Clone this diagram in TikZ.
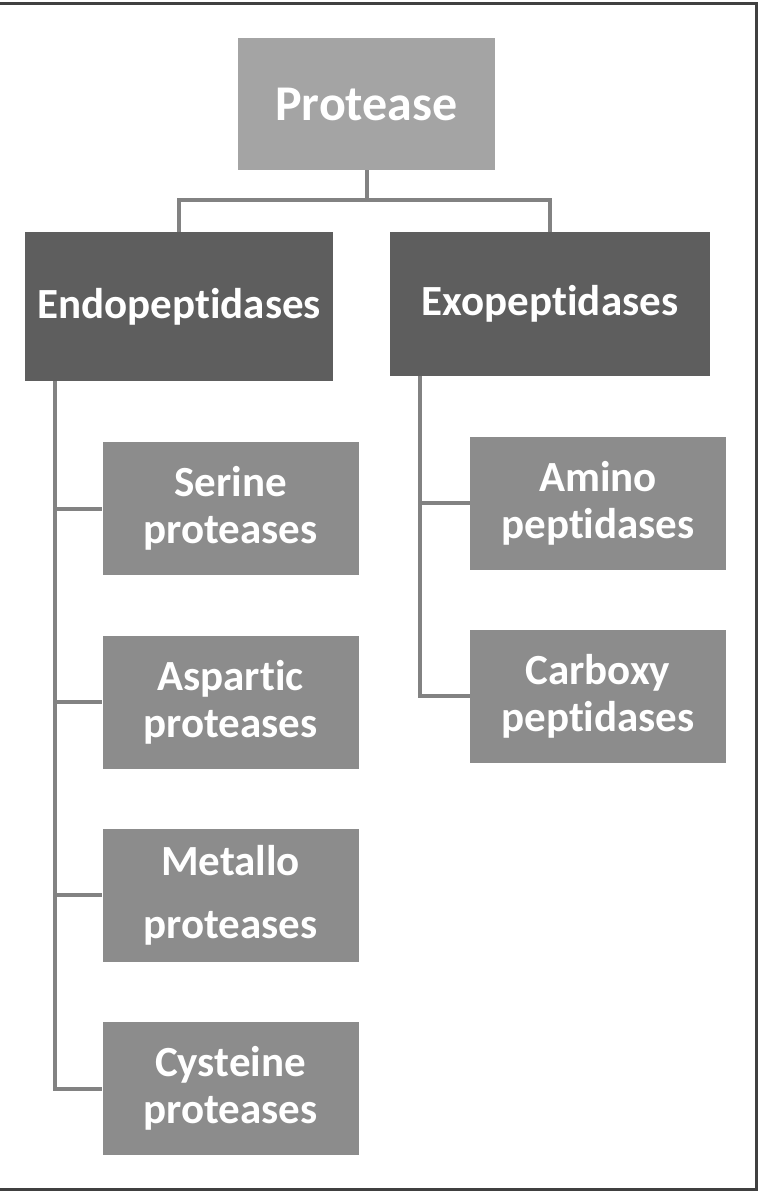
\documentclass[tikz,border=0pt]{standalone}
\usepackage{fontspec}
\setmainfont[Ligatures={NoCommon}]{Carlito}
\usetikzlibrary{positioning}

\definecolor{topgray}{HTML}{A4A4A4}
\definecolor{darkgray}{HTML}{5E5E5E}
\definecolor{leafgray}{HTML}{8C8C8C}
\definecolor{linkgray}{HTML}{828282}

\begin{document}
\begin{tikzpicture}[
            x=1pt, y=-1pt,
            every node/.style={font=\bfseries, text=white, align=center, inner sep=0pt},
            rootbox/.style={
                rectangle,
                fill=topgray,
                minimum width=257pt,
                minimum height=132pt,
                font=\bfseries\fontsize{50}{58}\selectfont
            },
            groupbox/.style={
                rectangle,
                fill=darkgray,
                minimum height=146pt,
                font=\bfseries\fontsize{43}{50}\selectfont
            },
            leafbox/.style={
                rectangle,
                fill=leafgray,
                minimum width=256pt,
                minimum height=133pt,
                font=\bfseries\fontsize{43}{47}\selectfont
            },
            link/.style={draw=linkgray, line width=4pt}
        ]
        \useasboundingbox (0,0) rectangle (760,1200);
        
        % Frame
        \draw[line width=3pt, draw=black!75] (0,3) -- (756,3) -- (756,1189) -- (0,1189);
        
        % Nodes
        \node[rootbox] (prot) at (366.5,104) {Protease};
        \node[groupbox, minimum width=308pt, minimum height=149pt] (endo) at (179,306.5) {Endopeptidases};
        \node[groupbox, minimum width=320pt, minimum height=144pt] (exo) at (550,304) {Exopeptidases};
        
        \node[leafbox] (serine) at (230.5,508.5) {Serine\\proteases};
        \node[leafbox] (aspartic) at (230.5,702) {Aspartic\\proteases};
        \node[leafbox] (metallo) at (230.5,895) {Metallo\\[16pt]proteases};
        \node[leafbox] (cysteine) at (230.5,1088.5) {Cysteine\\proteases};
        
        \node[leafbox] (amino) at (598,503) {Amino\\peptidases};
        \node[leafbox] (carboxy) at (598,696) {Carboxy\\peptidases};
        
        \coordinate (endotrunk) at (55,381);
        \coordinate (exotrunk) at (420,376);
        
        % Connectors
        \draw[link] (prot.south) -- ++(0,30) -| (endo.north);
        \draw[link] (prot.south) -- ++(0,30) -| (exo.north);
        
        \draw[link] (endotrunk) |- (serine.west);
        \draw[link] (endotrunk) |- (aspartic.west);
        \draw[link] (endotrunk) |- (metallo.west);
        \draw[link] (endotrunk) |- (cysteine.west);
        
        \draw[link] (exotrunk) |- (amino.west);
        \draw[link] (exotrunk) |- (carboxy.west);
        
        \end{tikzpicture}
\end{document}
